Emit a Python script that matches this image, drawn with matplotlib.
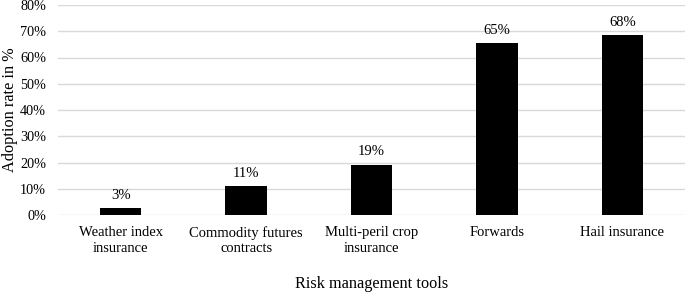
import numpy as np
import matplotlib.pyplot as plt

plt.rcParams['font.family'] = ['Liberation Serif', 'DejaVu Serif']

categories = ["Weather index\ninsurance", "Commodity futures\ncontracts",
              "Multi-peril crop\ninsurance", "Forwards", "Hail insurance"]
adoption = [2.7, 11.1, 19.2, 65.4, 68.4]
yticks = [0, 10, 20, 30, 40, 50, 60, 70, 80]

fig = plt.figure(figsize=(6.85, 2.92), dpi=100)
ax = fig.add_axes([58 / 685, 1 - 215 / 292, 627 / 685, 210 / 292])

x = np.arange(len(categories))
bars = ax.bar(x, adoption, width=0.33, color="black", zorder=3)

for b, v in zip(bars, adoption):
    ax.annotate(f"{v:.0f}%", (b.get_x() + b.get_width() / 2, v),
                xytext=(0, 4.5), textcoords="offset points",
                ha="center", va="bottom", fontsize=10.5)

ax.set_xlim(-0.5, len(categories) - 0.5)
ax.set_ylim(0, 80)
ax.set_yticks(yticks)
ax.set_yticklabels([f"{t}%" for t in yticks], fontsize=10.3)
ax.set_xticks(x)
ax.set_xticklabels(categories, fontsize=10.5, linespacing=1.25)
ax.grid(axis="y", color="#d9d9d9", linewidth=1, zorder=0)
ax.tick_params(axis="y", length=0, pad=8.5)
ax.tick_params(axis="x", length=0, pad=8)
for s in ax.spines.values():
    s.set_visible(False)

ax.set_ylabel("Adoption rate in %", fontsize=11.7)
ax.yaxis.set_label_coords(-40 / 627, 0.5)
ax.set_xlabel("Risk management tools", fontsize=11.7)
ax.xaxis.set_label_coords(0.5, -61 / 210)

fig.savefig("out.png", dpi=100)
